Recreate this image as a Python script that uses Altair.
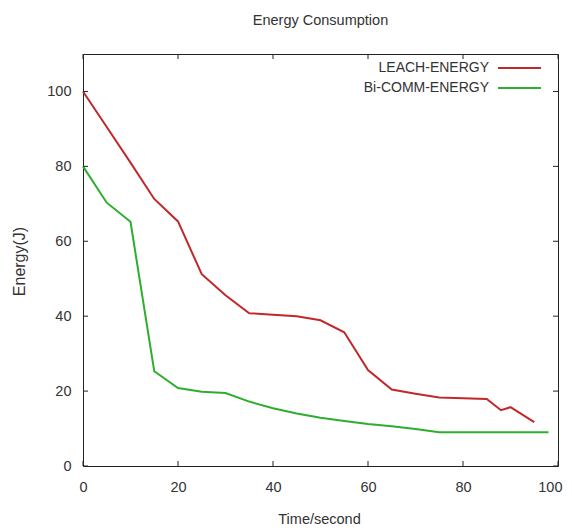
import altair as alt
import pandas as pd

SERIES = ["LEACH-ENERGY", "Bi-COMM-ENERGY"]
COLORS = ["#c0282a", "#2eae2e"]

T_LEACH = [0, 5, 10, 15, 20, 25, 30, 35, 40, 45, 50, 55, 60, 65, 70, 75, 80, 85, 88, 90, 95]
E_LEACH = [100, 90.5, 81, 71.3, 65.3, 51.2, 45.6, 40.8, 40.4, 40, 38.9, 35.7, 25.6, 20.4,
           19.3, 18.3, 18.1, 17.9, 14.9, 15.7, 11.7]

T_BI = [0, 5, 10, 15, 20, 25, 30, 35, 40, 45, 50, 55, 60, 65, 70, 75, 80, 85, 90, 95, 98]
E_BI = [80, 70.3, 65.2, 25.3, 20.8, 19.8, 19.5, 17.2, 15.4, 14, 12.9, 12, 11.2, 10.6,
        9.9, 9, 9, 9, 9, 9, 9]

X_TICKS = [0, 20, 40, 60, 80, 100]
Y_TICKS = [0, 20, 40, 60, 80, 100]

W, H = 475, 412
FONT = "Liberation Sans"
FS = 14.5
TXT = "#333333"

df = pd.concat([
    pd.DataFrame({"time": T_LEACH, "energy": E_LEACH, "series": SERIES[0],
                  "idx": list(range(len(T_LEACH)))}),
    pd.DataFrame({"time": T_BI, "energy": E_BI, "series": SERIES[1],
                  "idx": list(range(len(T_BI)))}),
], ignore_index=True)

x_scale = alt.Scale(domain=[0, 100], nice=False, zero=False)
y_scale = alt.Scale(domain=[0, 110], nice=False)
x_axis = alt.Axis(values=X_TICKS, title="Time/second", labelPadding=14,
                  labelFlush=5, labelFlushOffset=4,
                  titleX=236, titleY=53, titleBaseline="middle")
y_axis = alt.Axis(values=Y_TICKS, title="Energy(J)", labelPadding=12, labelFlush=False,
                  titleX=-64, titleY=207, titleBaseline="middle",
                  titleFontSize=16)

lines = alt.Chart(df).mark_line(strokeWidth=2).encode(
    x=alt.X("time:Q", scale=x_scale, axis=x_axis),
    y=alt.Y("energy:Q", scale=y_scale, axis=y_axis),
    color=alt.Color("series:N", scale=alt.Scale(domain=SERIES, range=COLORS), legend=None),
    order="idx:Q",
)

xt = pd.DataFrame({"v": X_TICKS})
yt = pd.DataFrame({"v": Y_TICKS})
TICK = 5
tick_color = "#222222"
bottom_ticks = alt.Chart(xt).mark_rule(color=tick_color).encode(
    x=alt.X("v:Q", scale=x_scale, axis=x_axis), y=alt.value(H), y2=alt.value(H - TICK))
top_ticks = alt.Chart(xt).mark_rule(color=tick_color).encode(
    x=alt.X("v:Q", scale=x_scale, axis=x_axis), y=alt.value(0), y2=alt.value(TICK))
left_ticks = alt.Chart(yt).mark_rule(color=tick_color).encode(
    y=alt.Y("v:Q", scale=y_scale, axis=y_axis), x=alt.value(0), x2=alt.value(TICK))
right_ticks = alt.Chart(yt).mark_rule(color=tick_color).encode(
    y=alt.Y("v:Q", scale=y_scale, axis=y_axis), x=alt.value(W), x2=alt.value(W - TICK))

legend_layers = []
for i, (name, col) in enumerate(zip(SERIES, COLORS)):
    src = pd.DataFrame({"s": [name]})
    legend_layers.append(
        alt.Chart(src).mark_text(align="right", baseline="middle", font=FONT,
                                 fontSize=14, color=TXT).encode(
            text="s:N", x=alt.value(406), y=alt.value(14 + 20 * i)))
    legend_layers.append(
        alt.Chart(src).mark_rule(color=col, strokeWidth=2).encode(
            x=alt.value(415), x2=alt.value(458), y=alt.value(14 + 20 * i)))

chart = alt.layer(
    lines, bottom_ticks, top_ticks, left_ticks, right_ticks, *legend_layers
).properties(
    width=W, height=H,
    title=alt.TitleParams("Energy Consumption", font=FONT, fontSize=FS,
                          fontWeight="normal", color=TXT, offset=25,
                          anchor="middle", frame="group"),
    autosize=alt.AutoSizeParams(type="none"),
    padding={"left": 75, "top": 46, "right": 6, "bottom": 60},
).configure_view(
    stroke="#222222", strokeWidth=1
).configure_axis(
    domain=False, ticks=False, tickSize=0, grid=False,
    labelFont=FONT, labelFontSize=FS, labelColor=TXT,
    titleFont=FONT, titleFontSize=FS, titleFontWeight="normal", titleColor=TXT,
)

chart.save("out.html", embed_options={"renderer": "svg", "actions": False})
